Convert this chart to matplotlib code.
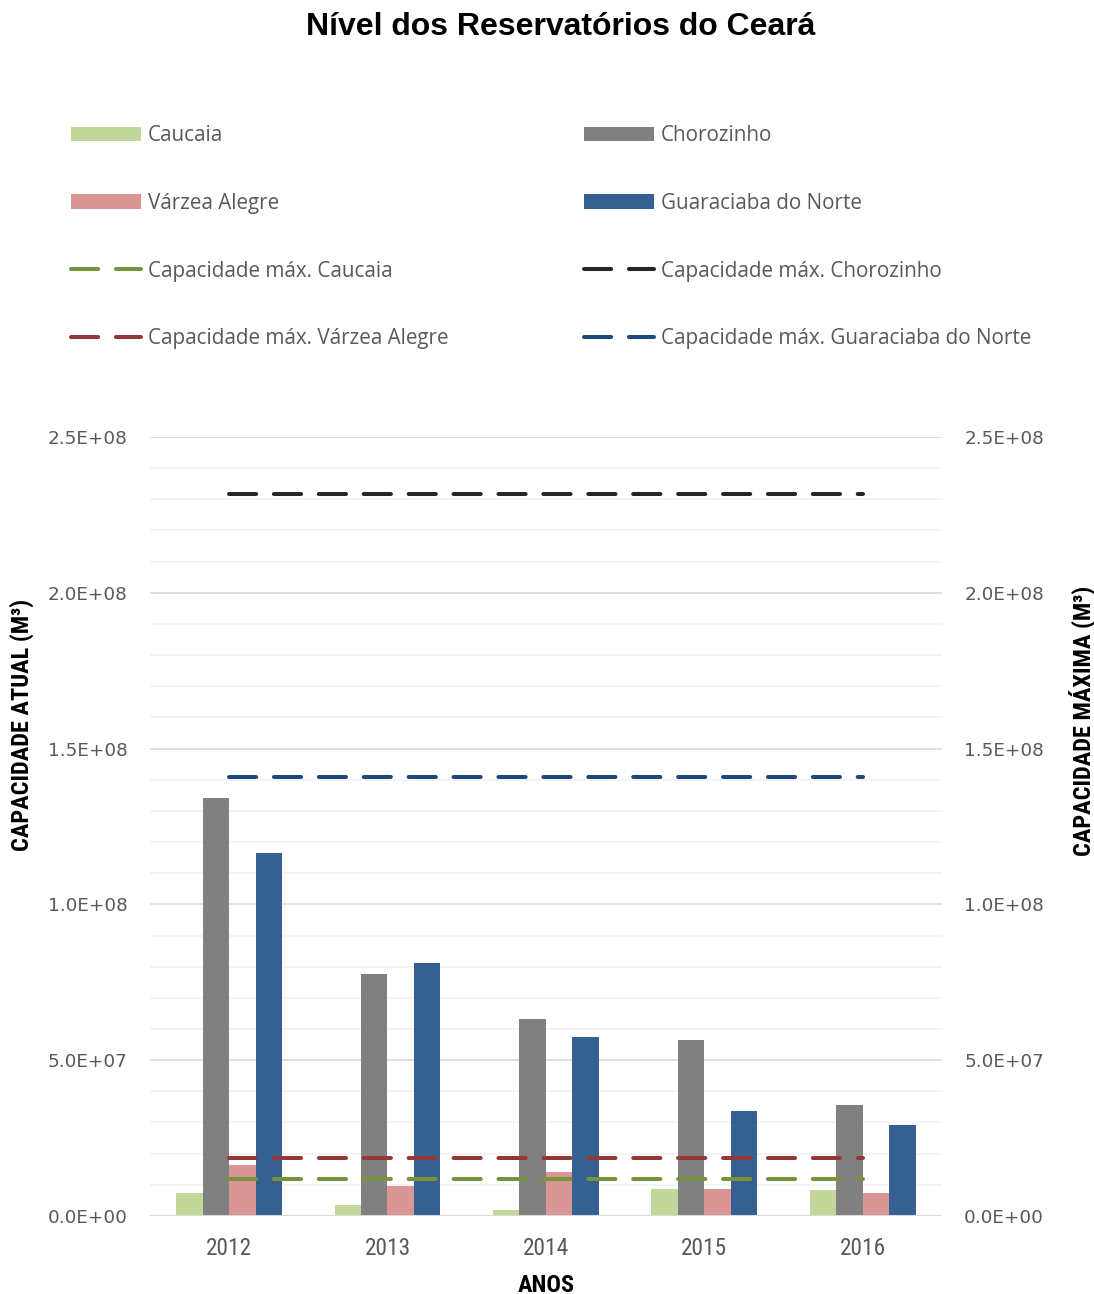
import matplotlib
matplotlib.use("Agg")
import matplotlib.pyplot as plt
from matplotlib import font_manager as fm
from matplotlib.patches import Patch
from matplotlib.lines import Line2D
from matplotlib.ticker import MultipleLocator, FuncFormatter
import numpy as np

years = ["2012", "2013", "2014", "2015", "2016"]

caucaia = [7.4e6, 3.6e6, 2.0e6, 8.6e6, 8.3e6]
chorozinho = [134.0e6, 77.8e6, 63.1e6, 56.5e6, 35.7e6]
varzea_alegre = [16.3e6, 9.6e6, 14.1e6, 8.8e6, 7.5e6]
guaraciaba = [116.4e6, 81.3e6, 57.3e6, 33.8e6, 29.3e6]

cap_caucaia = [11.8e6] * 5
cap_chorozinho = [231.7e6] * 5
cap_varzea = [18.7e6] * 5
cap_guaraciaba = [140.8e6] * 5

names = ["Caucaia", "Chorozinho", "Várzea Alegre", "Guaraciaba do Norte"]
bar_colors = ["#c4d79b", "#808080", "#da9694", "#366092"]
line_colors = ["#77933c", "#262626", "#953735", "#1f497d"]


def pick_font(candidates):
    # first family that is really installed
    for c in candidates:
        try:
            fm.findfont(fm.FontProperties(family=c), fallback_to_default=False)
            return c
        except Exception:
            pass
    return "DejaVu Sans"


narrow = [pick_font(["Liberation Sans Narrow", "Roboto Condensed", "Roboto"]), "DejaVu Sans"]
soft = ["Open Sans", "DejaVu Sans"]
grey_txt = "#595959"
LW = 2.9
DASH = (6.75, 4.4)

fig = plt.figure(figsize=(10.94, 12.94), dpi=100)
ax = fig.add_axes([0.137, 0.0603, 0.724, 0.602])
ax2 = ax.twinx()

x = np.arange(len(years))
w = 0.167
series = [caucaia, chorozinho, varzea_alegre, guaraciaba]
for i, (vals, col) in enumerate(zip(series, bar_colors)):
    ax.bar(x + (i - 1.5) * w, vals, width=w, color=col, zorder=3)

caps = [cap_caucaia, cap_chorozinho, cap_varzea, cap_guaraciaba]
for vals, col in zip(caps, line_colors):
    ax2.plot(x, vals, color=col, lw=LW, dashes=DASH,
             dash_capstyle="round", zorder=4)

for a in (ax, ax2):
    a.set_ylim(0, 2.5e8)
    a.yaxis.set_major_locator(MultipleLocator(5e7))
    a.yaxis.set_major_formatter(FuncFormatter(lambda v, p: f"{v:.1E}"))
    for s in a.spines.values():
        s.set_visible(False)
    a.tick_params(axis="y", which="both", length=0, labelsize=13.2, colors=grey_txt, pad=16)

ax.set_xlim(-0.5, 4.5)
ax.yaxis.set_minor_locator(MultipleLocator(1e7))
ax.grid(axis="y", which="major", color="#d9d9d9", lw=1.2, zorder=0)
ax.grid(axis="y", which="minor", color="#f2f2f2", lw=1.2, zorder=0)
ax.axhline(0, color="#d9d9d9", lw=1.5, zorder=5)
ax.set_xticks(x)
ax.set_xticklabels(years, family=narrow, fontsize=16.8, color=grey_txt)
ax.tick_params(axis="x", length=0, pad=15)

lab = dict(family=narrow, fontweight="bold", fontsize=17.5, color="black")
fig.text(546 / 1094, 1 - 1285 / 1294, "ANOS", ha="center", va="center", **lab)
fig.text(22 / 1094, 1 - 725 / 1294, "CAPACIDADE ATUAL (M³)", rotation=90,
         ha="center", va="center", **lab)
fig.text(1082 / 1094, 1 - 721 / 1294, "CAPACIDADE MÁXIMA (M³)", rotation=90,
         ha="center", va="center", **lab)

fig.text(561 / 1094, 1 - 27 / 1294, "Nível dos Reservatórios do Ceará",
         family=["Liberation Sans", "DejaVu Sans"], fontweight="bold", fontsize=23,
         ha="center", va="center")

bar_handles = [Patch(facecolor=c, label=n) for c, n in zip(bar_colors, names)]
line_handles = [Line2D([], [], color=c, lw=LW, dashes=DASH, dash_capstyle="round",
                       label="Capacidade máx. " + n) for c, n in zip(line_colors, names)]
col1 = [bar_handles[0], bar_handles[2], line_handles[0], line_handles[2]]
col2 = [bar_handles[1], bar_handles[3], line_handles[1], line_handles[3]]
leg_kw = dict(loc="upper left", frameon=False, prop={"family": soft, "size": 14.9},
              handlelength=3.4, handleheight=0.7, labelspacing=2.26,
              handletextpad=0.3, borderpad=0, borderaxespad=0)
for hs, x0 in ((col1, 71), (col2, 584)):
    leg = fig.legend(handles=hs, bbox_to_anchor=(x0 / 1094, 1 - 125 / 1294), **leg_kw)
    for t in leg.get_texts():
        t.set_color(grey_txt)

fig.savefig("out.png", dpi=100)
